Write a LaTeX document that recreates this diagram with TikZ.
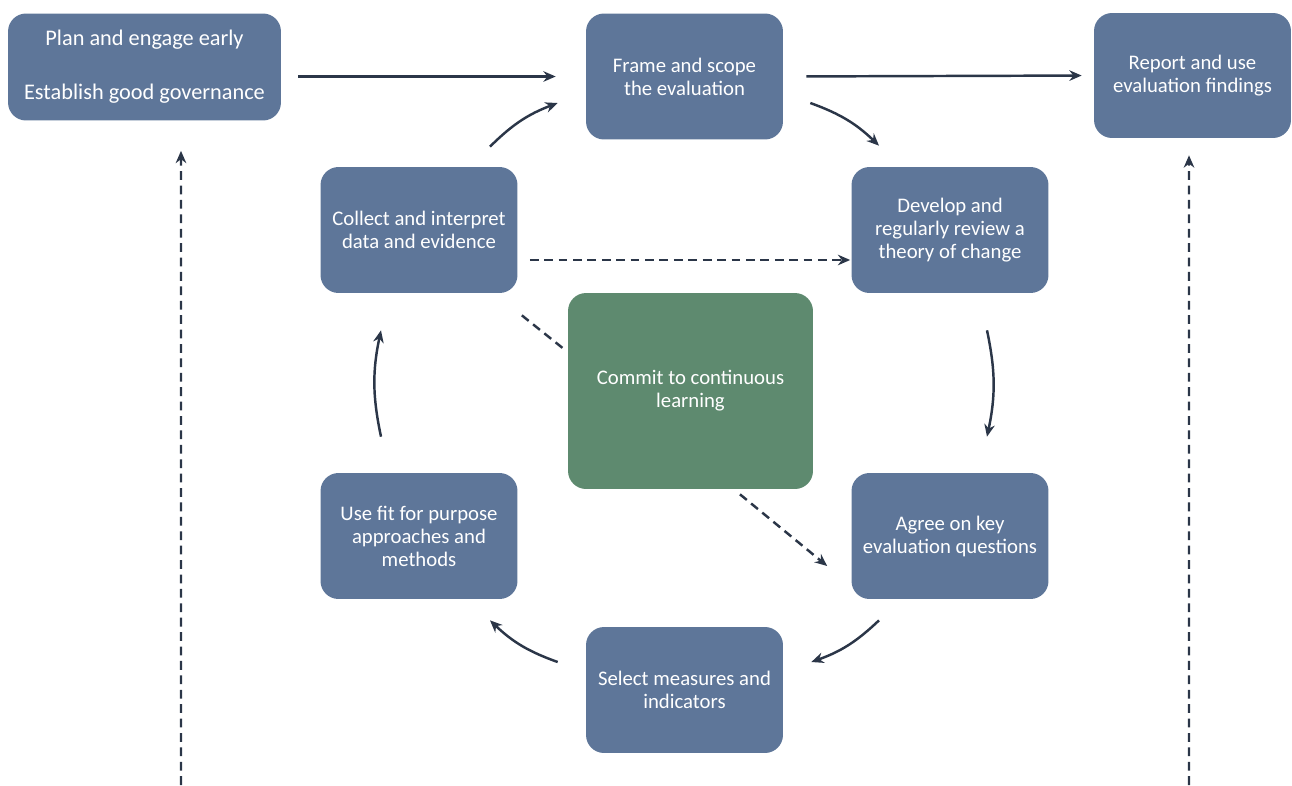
\documentclass[tikz,border=0pt]{standalone}
\usepackage{fontspec}
\setmainfont{Carlito}
\usetikzlibrary{arrows.meta}
\definecolor{stepblue}{HTML}{5E7699}
\definecolor{learngreen}{HTML}{5E8A6F}
\definecolor{arrowdark}{HTML}{2B3648}
\begin{document}
\begin{tikzpicture}[x=0.02cm,y=-0.02cm,
    box/.style={fill=stepblue, draw=none, rounded corners=0.36cm, text=white, align=center, inner sep=0pt,
      minimum width=3.94cm, minimum height=2.52cm, font=\fontsize{11.8}{13.1}\selectfont},
    flow/.style={arrowdark, line width=1.4pt, -{Stealth[length=7pt,width=6pt]}},
    link/.style={flow, dash pattern=on 5pt off 3.2pt}]
  \useasboundingbox (0,0) rectangle (1292,785);
  \node[box, minimum width=5.46cm, minimum height=2.14cm, font=\fontsize{12.7}{14}\selectfont] (plan) at (144.5,67) {Plan and engage early\\[16.6pt]Establish good governance};
  \node[box] (frame) at (684.5,76.5) {Frame and scope\\the evaluation};
  \node[box, minimum height=2.5cm] (report) at (1192.5,75.5) {Report and use\\evaluation findings};
  \node[box] (collect) at (419,230) {Collect and interpret\\data and evidence};
  \node[box] (develop) at (950,230) {Develop and\\regularly review a\\theory of change};
  \node[box, fill=learngreen, minimum width=4.9cm, minimum height=3.92cm] (commit) at (690.5,391) {Commit to continuous\\learning};
  \node[box] (use) at (419,536) {Use fit for purpose\\approaches and\\methods};
  \node[box] (agree) at (950,536) {Agree on key\\evaluation questions};
  \node[box] (select) at (684.5,690) {Select measures and\\indicators};
  \coordinate (govbase) at (181,785);
  \coordinate (reportbase) at (1189,785);

  \draw[flow, shorten <=0.34cm, shorten >=0.6cm] (plan.east |- frame.west) -- (frame.west);
  \draw[flow, shorten <=0.46cm, shorten >=0.24cm] (frame.east) -- (report.west);

  \draw[flow] ([xshift=1.42cm,yshift=0.4cm]collect.north) to[bend left=12] ([xshift=-0.56cm,yshift=-0.53cm]frame.west);
  \draw[flow] ([xshift=0.54cm,yshift=-0.53cm]frame.east) to[bend left=12] ([xshift=-1.42cm,yshift=0.42cm]develop.north);
  \draw[flow] ([xshift=0.74cm,yshift=-0.74cm]develop.south) to[bend left=12] ([xshift=0.74cm,yshift=0.72cm]agree.north);
  \draw[flow] ([xshift=-1.42cm,yshift=-0.42cm]agree.south) to[bend left=12] ([xshift=0.56cm,yshift=0.56cm]select.east);
  \draw[flow] ([xshift=-0.56cm,yshift=0.56cm]select.west) to[bend left=12] ([xshift=1.42cm,yshift=-0.42cm]use.south);
  \draw[flow] ([xshift=-0.76cm,yshift=0.72cm]use.north) to[bend left=12] ([xshift=-0.76cm,yshift=-0.74cm]collect.south);

  \draw[link, shorten <=0.24cm, shorten >=0.02cm] ([yshift=-0.6cm]collect.east) -- ([yshift=-0.6cm]develop.west);
  \draw[link, -] ([xshift=0.08cm,yshift=-0.44cm]collect.south east) -- ([xshift=-0.06cm,yshift=-1.14cm]commit.north west);
  \draw[link] ([xshift=0.99cm,yshift=-0.1cm]commit.south) -- ([xshift=-0.48cm,yshift=-0.6cm]agree.west);

  \draw[link] (govbase) -- ([xshift=0.73cm,yshift=-0.6cm]plan.south);
  \draw[link] (reportbase) -- ([xshift=-0.07cm,yshift=-0.34cm]report.south);
\end{tikzpicture}
\end{document}
